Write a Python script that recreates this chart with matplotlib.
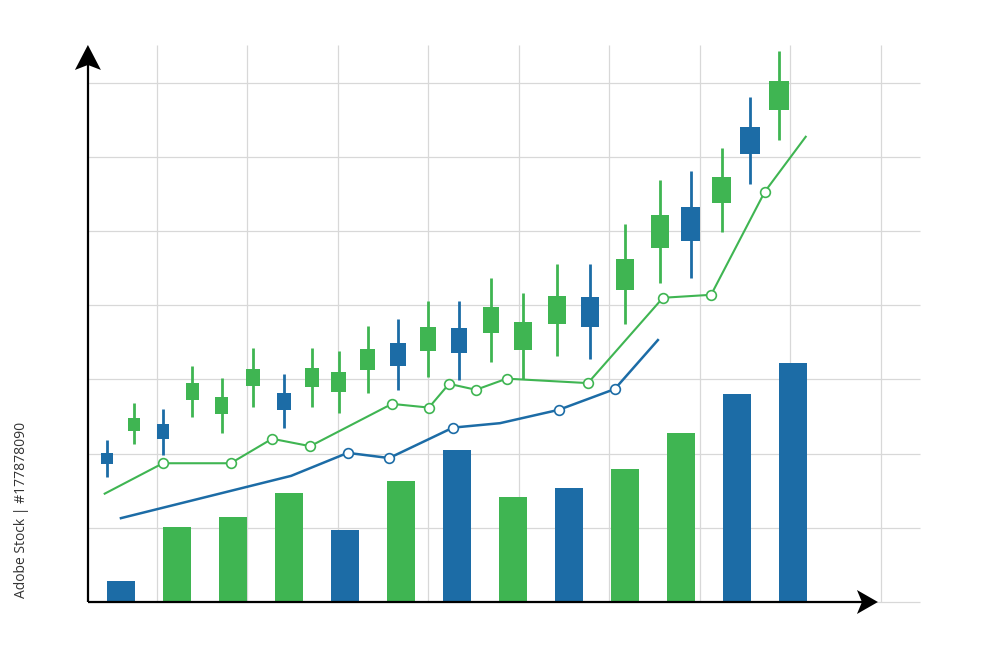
import numpy as np
import matplotlib
matplotlib.use("Agg")
import matplotlib.pyplot as plt

BLUE = "#1c6ca6"
GREEN = "#3fb552"

# volume bars
bar_x = np.arange(1, 14)
bar_h = [2.8, 10.1, 11.5, 14.7, 9.7, 16.3, 20.5, 14.2, 15.4, 17.9, 22.8, 28.0, 32.2]
bar_col = [BLUE, GREEN, GREEN, GREEN, BLUE, GREEN, BLUE, GREEN, BLUE, GREEN, GREEN, BLUE, BLUE]

# candles
c_x = [0.75, 1.23, 1.75, 2.27, 2.80, 3.36, 3.91, 4.41, 4.89, 5.41, 5.95, 6.48,
       7.04, 7.61, 8.18, 8.79, 9.38, 10.0, 10.63, 11.18, 11.73, 12.23, 12.75]
c_open = [20.1, 23.1, 24.0, 27.2, 25.3, 29.1, 28.2, 29.0, 28.3, 31.3, 34.9, 33.8,
          36.9, 36.3, 34.0, 37.5, 41.1, 42.1, 47.7, 53.2, 53.8, 64.0, 66.3]
c_close = [18.6, 24.8, 22.0, 29.5, 27.6, 31.4, 25.9, 31.5, 31.0, 34.1, 31.8, 37.1,
           33.6, 39.8, 37.7, 41.2, 37.1, 46.2, 52.2, 48.7, 57.3, 60.4, 70.2]
c_high = [21.8, 26.8, 26.0, 31.8, 30.2, 34.2, 30.7, 34.2, 33.8, 37.2, 38.1, 40.6,
          40.6, 43.7, 41.6, 45.6, 45.6, 50.9, 56.9, 58.1, 61.2, 68.1, 74.3]
c_low = [16.9, 21.3, 19.8, 24.9, 22.8, 26.3, 23.5, 26.3, 25.5, 28.2, 28.6, 30.3,
         29.9, 32.4, 30.1, 33.2, 32.8, 37.5, 43.0, 43.7, 49.9, 56.3, 62.3]

# green average line
g_x = [0.71, 1.75, 2.96, 3.70, 4.38, 5.84, 6.50, 6.86, 7.34, 7.89, 9.34, 10.68, 11.54, 12.50, 13.23]
g_y = [14.6, 18.7, 18.7, 22.0, 21.0, 26.7, 26.2, 29.4, 28.6, 30.1, 29.5, 41.0, 41.4, 55.3, 62.7]

# blue average line
b_x = [1.0, 4.04, 5.05, 5.79, 6.93, 7.77, 8.82, 9.82, 10.59]
b_y = [11.3, 17.0, 20.1, 19.4, 23.5, 24.1, 25.9, 28.7, 35.3]

fig = plt.figure(figsize=(10, 6.67), dpi=100)
ax = fig.add_axes([0, 0, 1, 1])
ax.set_xlim(-1.16, 16.70)
ax.set_ylim(-8.76, 81.13)
ax.axis("off")

# pixel -> data unit sizes
px_x = 1 / 56
px_y = 1 / 7.42

x0 = 0.41  # y-axis position
ytop = 75.07
xend = 14.52

# grid
grid_x = 1.643 + 1.616 * np.arange(9)
ax.vlines(grid_x, 0, 75, color="#d8d8d8", lw=0.9, zorder=0)
ax.hlines(np.arange(0, 80, 10), x0, 15.27, color="#d8d8d8", lw=0.9, zorder=0)

# bars
ax.bar(bar_x, bar_h, width=0.5, color=bar_col, zorder=2)

# lines
ax.plot(g_x, g_y, color=GREEN, lw=1.5, marker="o", ms=7, mfc="white", mec=GREEN, mew=1.2,
        markevery=list(range(1, 14)), zorder=3)
ax.plot(b_x, b_y, color=BLUE, lw=1.8, marker="o", ms=7, mfc="white", mec=BLUE, mew=1.2,
        markevery=[2, 3, 4, 6, 7], zorder=3)

# candles
widths = np.linspace(0.21, 0.36, len(c_x))
for x, o, h, l, c, w in zip(c_x, c_open, c_high, c_low, c_close, widths):
    col = GREEN if c >= o else BLUE
    ax.vlines(x, l, h, color=col, lw=2, zorder=4)
    ax.bar(x, abs(c - o), bottom=min(o, c), width=w, color=col, zorder=4)

# axes with stealth arrow heads
ax.plot([x0, x0], [0, ytop - 20 * px_y], color="black", lw=1.6, zorder=5, solid_capstyle="butt")
ax.plot([x0, xend - 16 * px_x], [0, 0], color="black", lw=1.6, zorder=5, solid_capstyle="butt")
ax.fill([x0, x0 - 13 * px_x, x0, x0 + 13 * px_x],
        [ytop, ytop - 25 * px_y, ytop - 20 * px_y, ytop - 25 * px_y],
        color="black", lw=0, zorder=6)
ax.fill([xend, xend - 21 * px_x, xend - 16 * px_x, xend - 21 * px_x],
        [0, 12 * px_y, 0, -12 * px_y],
        color="black", lw=0, zorder=6)

fig.text(0.022, 0.235, "Adobe Stock | #177878090", rotation=90, ha="center", va="center",
         fontsize=10, color="#333333", family="Open Sans")

fig.savefig("out.png", dpi=100)
